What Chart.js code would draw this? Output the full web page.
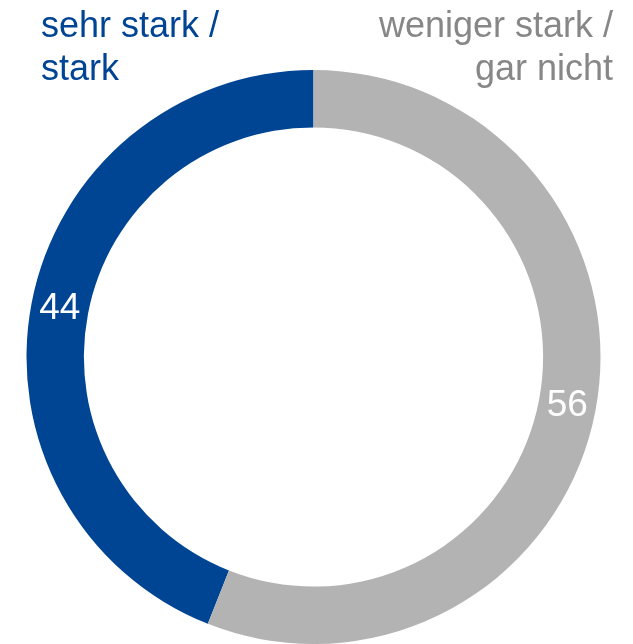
<!DOCTYPE html>
<html>
<head>
<meta charset="utf-8">
<script src="https://cdn.jsdelivr.net/npm/chart.js@4"></script>
<style>
  html, body { margin: 0; padding: 0; background: #fff; }
  #wrap { position: relative; width: 633px; height: 644px; }
  .lbl {
    position: absolute;
    font-family: "Liberation Sans", Arial, sans-serif;
    font-size: 36px;
    line-height: 43px;
    white-space: nowrap;
  }
  #lblA { left: 41px; top: 3px; color: #004494; }
  #lblB { right: 20px; top: 3px; color: #878787; text-align: right; }
</style>
</head>
<body>
<div id="wrap">
  <canvas id="chart" width="633" height="644"></canvas>
  <div class="lbl" id="lblA">sehr stark /<br>stark</div>
  <div class="lbl" id="lblB">weniger stark /<br>gar nicht</div>
</div>
<script>
const categories = ["sehr stark / stark", "weniger stark / gar nicht"];
const values = [44, 56];
const colors = ["#004494", "#b3b3b3"];

const total = values.reduce((a, b) => a + b, 0);

// Zahlen in der Mitte des Rings
const valueLabels = {
  id: "valueLabels",
  afterDatasetsDraw(chart) {
    const ctx = chart.ctx;
    const meta = chart.getDatasetMeta(0);
    ctx.save();
    ctx.font = '37px "Liberation Sans", Arial, sans-serif';
    ctx.fillStyle = "#ffffff";
    ctx.textAlign = "center";
    ctx.textBaseline = "middle";
    meta.data.forEach((arc, i) => {
      const p = arc.tooltipPosition();
      ctx.fillText(String(values[i]), p.x, p.y);
    });
    ctx.restore();
  },
};

new Chart(document.getElementById("chart").getContext("2d"), {
  type: "doughnut",
  data: {
    labels: categories,
    datasets: [
      {
        data: values,
        backgroundColor: colors,
        borderWidth: 0,
      },
    ],
  },
  options: {
    responsive: false,
    animation: false,
    cutout: "80%",
    rotation: -(values[0] / total) * 360,
    layout: { padding: { top: 70, left: 20, right: 26, bottom: 0 } },
    plugins: {
      legend: { display: false },
      tooltip: { enabled: false },
    },
  },
  plugins: [valueLabels],
});
</script>
</body>
</html>
